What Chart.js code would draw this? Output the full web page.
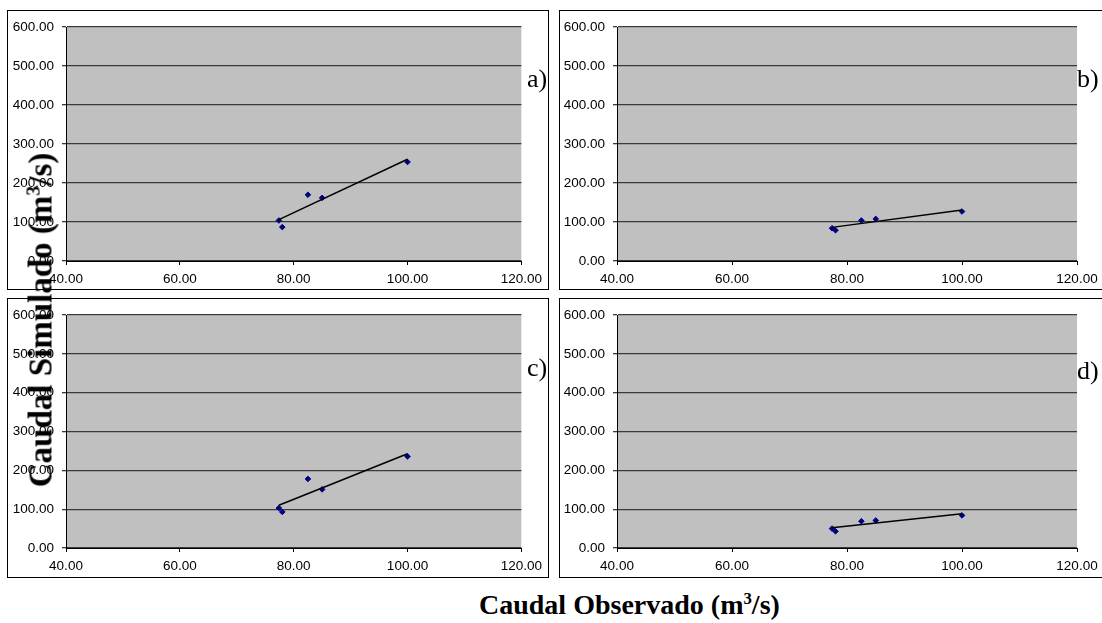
<!DOCTYPE html>
<html>
<head>
<meta charset="utf-8">
<script src="https://cdn.jsdelivr.net/npm/chart.js@4.4.0/dist/chart.umd.min.js"></script>
<style>
  body { margin: 0; background: #fff; width: 1102px; height: 623px; overflow: hidden; position: relative; }
  .panel { position: absolute; border: 1px solid #000; background: #fff; box-sizing: border-box; }
  .panel canvas { display: block; }
  .tag { position: absolute; font: 26px 'Liberation Serif', 'Times New Roman', serif; line-height: 26px; color: #000; white-space: nowrap; }
  .title { position: absolute; font: bold 28px 'Liberation Serif', 'Times New Roman', serif; line-height: 28px; color: #000; white-space: nowrap; }
  .title sup { font-size: 0.6em; vertical-align: 0.6em; line-height: 0; }
  #ytitle { font-size: 33px; line-height: 33px; left: 41px; top: 320px; transform: translate(-50%, -50%) rotate(-90deg); }
  #xtitle { left: 479px; top: 591px; }
</style>
</head>
<body>
<div class="panel" style="left:7px; top:10px; width:542px; height:280px;"><canvas id="ca" width="540" height="278"></canvas></div>
<div class="panel" style="left:559px; top:10px; width:546px; height:280px;"><canvas id="cb" width="544" height="278"></canvas></div>
<div class="panel" style="left:7px; top:298px; width:542px; height:280px;"><canvas id="cc" width="540" height="278"></canvas></div>
<div class="panel" style="left:559px; top:298px; width:546px; height:280px;"><canvas id="cd" width="544" height="278"></canvas></div>

<div class="tag" style="left:527px; top:66px;">a)</div>
<div class="tag" style="left:1077px; top:66px;">b)</div>
<div class="tag" style="left:527px; top:355px;">c)</div>
<div class="tag" style="left:1077px; top:358px;">d)</div>

<div class="title" id="ytitle">Caudal Simulado (m<sup>3</sup>/s)</div>
<div class="title" id="xtitle">Caudal Observado (m<sup>3</sup>/s)</div>

<script>
// caudal observado (eje x), igual para los cuatro paneles
const observado = [77.4, 78.0, 82.5, 85.0, 100.0];

// caudal simulado de cada panel
const simuladoA = [104, 87, 170, 162, 254];
const simuladoB = [84, 79, 104, 108, 127];
const simuladoC = [103, 93, 178, 151, 236];
const simuladoD = [50, 43, 69, 71, 84];

const xMin = 40, xMax = 120, xStep = 20;
const yMin = 0, yMax = 600, yStep = 100;

// recta de tendencia lineal (minimos cuadrados), de min(x) a max(x)
function tendencia(xs, ys) {
    const n = xs.length;
    const mx = xs.reduce((a, b) => a + b, 0) / n;
    const my = ys.reduce((a, b) => a + b, 0) / n;
    let sxy = 0, sxx = 0;
    for (let i = 0; i < n; i++) {
        sxy += (xs[i] - mx) * (ys[i] - my);
        sxx += (xs[i] - mx) * (xs[i] - mx);
    }
    const m = sxy / sxx, b = my - m * mx;
    const x0 = Math.min(...xs), x1 = Math.max(...xs);
    return [{ x: x0, y: m * x0 + b }, { x: x1, y: m * x1 + b }];
}

// fondo gris del area de trazado
const fondoGris = {
    id: 'fondoGris',
    beforeDraw(chart) {
        const a = chart.chartArea;
        const ctx = chart.ctx;
        ctx.save();
        ctx.fillStyle = '#c0c0c0';
        ctx.fillRect(a.left, a.top, a.right - a.left, a.bottom - a.top);
        ctx.restore();
    }
};

const fuenteEjes = { family: "'Liberation Sans', Arial, sans-serif", size: 13.5 };

function panel(id, ys, yWidth, padRight, xHeight) {
    const puntos = observado.map((x, i) => ({ x: x, y: ys[i] }));
    new Chart(document.getElementById(id), {
        type: 'scatter',
        data: {
            datasets: [
                {
                    data: tendencia(observado, ys),
                    showLine: true,
                    borderColor: '#000',
                    borderWidth: 1.5,
                    pointRadius: 0
                },
                {
                    data: puntos,
                    pointStyle: 'rectRot',
                    pointRadius: 2.8,
                    backgroundColor: '#000080',
                    borderColor: '#000080',
                    borderWidth: 1
                }
            ]
        },
        options: {
            responsive: false,
            animation: false,
            layout: { padding: { left: 0, right: padRight, top: 10, bottom: 0 } },
            plugins: { legend: { display: false }, tooltip: { enabled: false } },
            scales: {
                x: {
                    type: 'linear',
                    min: xMin, max: xMax,
                    afterFit: s => { s.height = xHeight; },
                    border: { color: '#000', width: 1 },
                    grid: { drawOnChartArea: false, color: '#000', tickLength: 4 },
                    ticks: { stepSize: xStep, padding: 6, color: '#000', font: fuenteEjes, maxRotation: 0,
                             callback: v => v.toFixed(2) }
                },
                y: {
                    min: yMin, max: yMax,
                    afterFit: s => { s.width = yWidth; },
                    border: { color: '#000', width: 1 },
                    grid: { color: '#3a3a3a', lineWidth: 1.3, tickLength: 4 },
                    ticks: { stepSize: yStep, padding: 8, color: '#000', font: fuenteEjes,
                             callback: v => v.toFixed(2) }
                }
            }
        },
        plugins: [fondoGris]
    });
}

panel('ca', simuladoA, 58, 22, 28);
panel('cb', simuladoB, 57, 27, 28);
panel('cc', simuladoC, 58, 22, 29);
panel('cd', simuladoD, 57, 27, 29);
</script>
</body>
</html>
